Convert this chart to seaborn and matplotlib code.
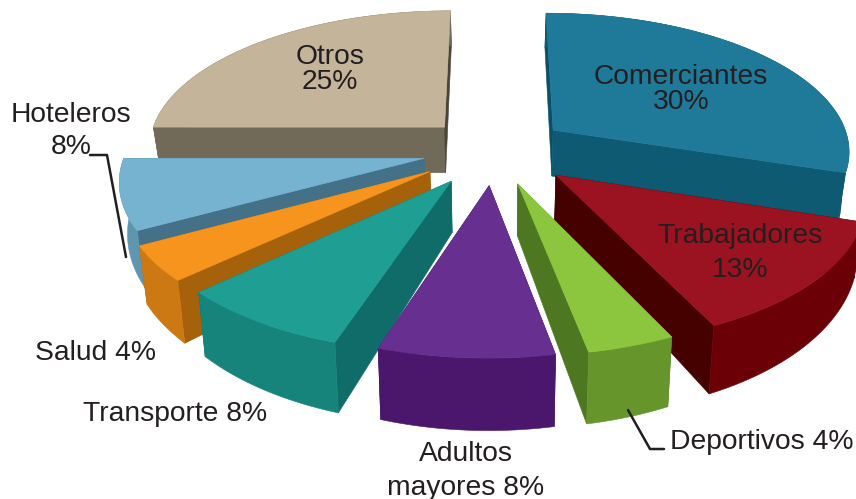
import numpy as np
import matplotlib
matplotlib.use("Agg")
import matplotlib.pyplot as plt
import seaborn as sns

names = ["Comerciantes", "Trabajadores", "Deportivos", "Adultos", "Transporte", "Salud", "Hoteleros", "Otros"]
values = [30, 13, 4, 8, 8, 4, 8, 25]

top_colors = ["#1F7A99", "#9B1320", "#8CC63F", "#662F90", "#1F9E93", "#F7941D", "#76B3D1", "#C4B49A"]
rim_colors = ["#0D5A72", "#6B0006", "#66962B", "#4A176D", "#17847C", "#CC7914", "#6095B0", "#716A58"]
start_colors = ["#0A5068", "#450000", "#4E7722", "#4A176D", "#0F6C68", "#A5620A", "#457188", "#716A58"]
end_colors = ["#0D5A72", "#450000", "#4E7722", "#4A176D", "#0F6C68", "#A5620A", "#457188", "#4A4538"]
explode = [0.25, 0.27, 0.25, 0.25, 0.26, 0.26, 0.24, 0.24]

draw_order = [7, 0, 6, 5, 1, 4, 2, 3]

CX, CY, RX, RY, PERSP, DEPTH, TAPER = 494, 150, 298, 138, 0.137, 48, 0.022


def project(X, Y, Z=0.0):
    X, Y = np.asarray(X, float), np.asarray(Y, float)
    w = 1 - PERSP * Y
    x = CX + RX * X / w
    y = CY + RY * Y / w + DEPTH * Z / w ** 2.2
    x = x + (CX - x) * TAPER * Z
    return np.column_stack([x, y])


sns.set_theme(style="white")
plt.rcParams["font.family"] = ["Liberation Sans", "DejaVu Sans"]
fig = plt.figure(figsize=(8.56, 4.99), dpi=100)
ax = fig.add_axes([0, 0, 1, 1])
ax.set_xlim(0, 856)
ax.set_ylim(499, 0)
ax.axis("off")

edges = np.cumsum([0] + values) / sum(values) * 2 * np.pi
for i in draw_order:
    a0, a1 = edges[i], edges[i + 1]
    mid = (a0 + a1) / 2
    ox, oy = explode[i] * np.sin(mid), -explode[i] * np.cos(mid)
    t = np.linspace(a0, a1, 60)
    X, Y = ox + np.sin(t), oy - np.cos(t)
    for XE, YE, col in ((X[0], Y[0], start_colors[i]), (X[-1], Y[-1], end_colors[i])):
        face = np.vstack([project([ox, XE], [oy, YE], 0), project([XE, ox], [YE, oy], 1)])
        ax.fill(face[:, 0], face[:, 1], color=col, lw=0.4)
    rim = np.vstack([project(X, Y, 0), project(X[::-1], Y[::-1], 1)])
    ax.fill(rim[:, 0], rim[:, 1], color=rim_colors[i], lw=0.4)
    top = np.vstack([project([ox], [oy], 0), project(X, Y, 0)])
    ax.fill(top[:, 0], top[:, 1], color=top_colors[i], lw=0.4)

ax.plot([90, 107, 126], [155, 155, 257], color="#231F20", lw=1.8)
ax.plot([628, 650, 664], [410, 449, 449], color="#231F20", lw=1.8)

TXT = "#231F20"
FS = 20.3
ax.text(330, 69, f"Otros\n{values[7]}%", ha="center", va="center", fontsize=FS, color=TXT, linespacing=0.95)
ax.text(681, 89, f"{names[0]}\n{values[0]}%", ha="center", va="center", fontsize=FS, color=TXT, linespacing=0.95)
ax.text(740, 253, f"{names[1]}\n{values[1]}%", ha="center", va="center", fontsize=FS, color=TXT, linespacing=1.37)
ax.text(71, 131, f"{names[6]}\n{values[6]}%", ha="center", va="center", fontsize=FS, color=TXT, linespacing=1.33)
ax.text(96, 353, f"{names[5]} {values[5]}%", ha="center", va="center", fontsize=FS, color=TXT)
ax.text(175, 414, f"{names[4]} {values[4]}%", ha="center", va="center", fontsize=FS, color=TXT)
ax.text(466, 471, f"{names[3]}\nmayores {values[3]}%", ha="center", va="center", fontsize=FS, color=TXT, linespacing=1.37)
ax.text(762, 442, f"{names[2]} {values[2]}%", ha="center", va="center", fontsize=FS, color=TXT)

fig.savefig("out.png", dpi=100)
